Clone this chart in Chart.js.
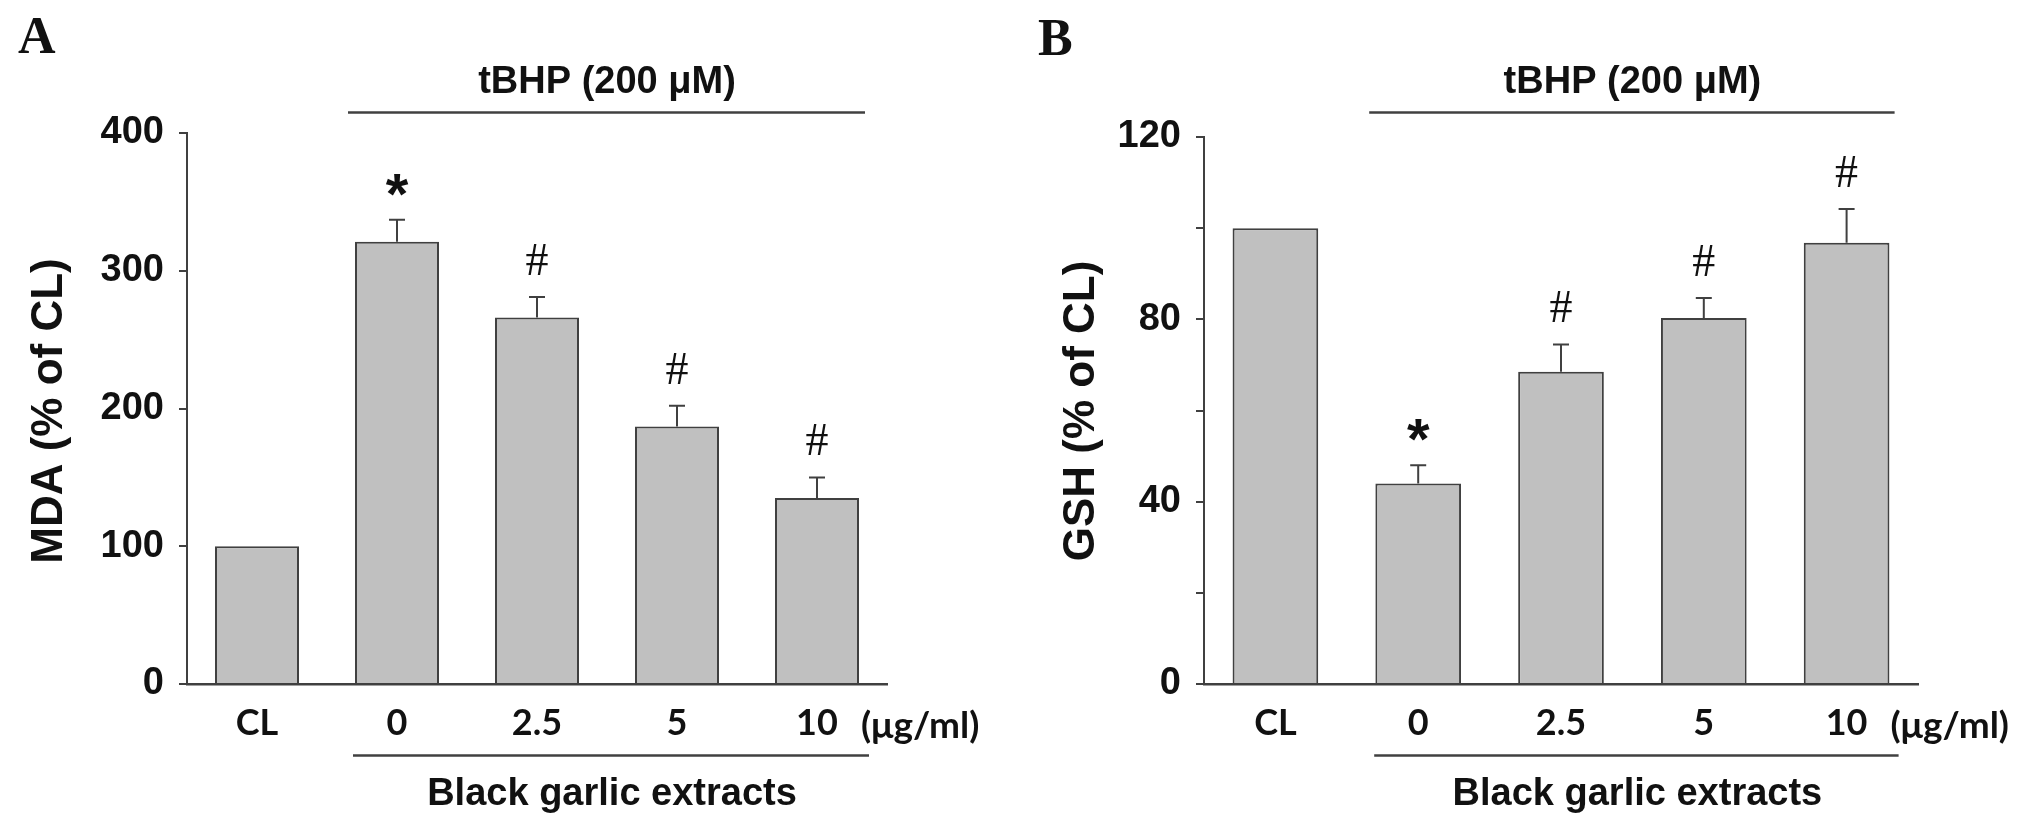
<!DOCTYPE html>
<html>
<head>
<meta charset="utf-8">
<script src="https://cdn.jsdelivr.net/npm/chart.js@4.4.1/dist/chart.umd.min.js"></script>
<style>
  html, body { margin: 0; padding: 0; background: #fff; overflow: hidden; }
  #wrap { position: relative; width: 2043px; height: 831px; }
  canvas { position: absolute; top: 0; }
</style>
</head>
<body>
<div id="wrap">
  <canvas id="chartA" width="1000" height="831" style="left:0px"></canvas>
  <canvas id="chartB" width="1043" height="831" style="left:1000px"></canvas>
</div>
<script>
// groups on the x axis (CL = control, rest = black garlic extract in ug/ml)
const groups = ['CL', '0', '2.5', '5', '10'];

// panel A - MDA (% of CL)
const mdaMean = [100, 321, 266, 187, 135];
const mdaErr = [0, 16, 15, 15, 15];
const mdaMarks = ['', '*', '#', '#', '#'];
const mdaTickLabels = [0, 100, 200, 300, 400];

// panel B - GSH (% of CL)
const gshMean = [100, 44, 68.5, 80.3, 96.8];
const gshErr = [0, 4, 6, 4.4, 7.4];
const gshMarks = ['', '*', '#', '#', '#'];
const gshTickLabels = [0, 40, 80, 120];

const SANS = '"Liberation Sans", Arial, sans-serif';
const TICK = 'Lato, "Liberation Sans", sans-serif';
const SERIF = '"Liberation Serif", "Times New Roman", serif';
const INK = '#111';
const LINE = '#404040';

// error bars, * / # marks, brackets and extra text
function makeDecor(cfg) {
    return {
        id: 'decor',
        afterDatasetsDraw(chart) {
            const ctx = chart.ctx;
            const y = chart.scales.y;
            const bars = chart.getDatasetMeta(0).data;
            ctx.save();
            ctx.strokeStyle = LINE;
            ctx.lineWidth = 2;
            bars.forEach((bar, i) => {
                if (!cfg.errors[i]) return;
                const top = y.getPixelForValue(cfg.means[i] + cfg.errors[i]);
                ctx.beginPath();
                ctx.moveTo(bar.x, bar.y);
                ctx.lineTo(bar.x, top);
                ctx.moveTo(bar.x - 8, top);
                ctx.lineTo(bar.x + 8, top);
                ctx.stroke();
            });
            ctx.fillStyle = INK;
            ctx.textAlign = 'center';
            ctx.textBaseline = 'alphabetic';
            bars.forEach((bar, i) => {
                const m = cfg.marks[i];
                if (!m) return;
                const top = y.getPixelForValue(cfg.means[i] + cfg.errors[i]);
                if (m === '*') {
                    ctx.font = 'bold 58px ' + SANS;
                    ctx.fillText(m, bar.x, top - 6);
                } else {
                    ctx.font = '46px ' + SERIF;
                    ctx.fillText(m, bar.x, top - 22);
                }
            });
            ctx.restore();
        },
        afterDraw(chart) {
            const ctx = chart.ctx;
            const x = chart.scales.x;
            const p1 = x.getPixelForValue(1);
            const p4 = x.getPixelForValue(4);
            ctx.save();
            ctx.strokeStyle = LINE;
            ctx.lineWidth = 2.5;

            // tBHP bracket
            ctx.beginPath();
            ctx.moveTo(p1 - 49, 112.5);
            ctx.lineTo(p4 + 48, 112.5);
            ctx.stroke();
            ctx.fillStyle = INK;
            ctx.textAlign = 'center';
            ctx.textBaseline = 'alphabetic';
            ctx.font = 'bold 38px ' + SANS;
            ctx.fillText('tBHP (200 μM)', (p1 + p4) / 2, 93);

            // extract bracket
            ctx.beginPath();
            ctx.moveTo(p1 - 44, 755.5);
            ctx.lineTo(p4 + 52, 755.5);
            ctx.stroke();
            ctx.fillText('Black garlic extracts', (p1 + p4) / 2 + 5, 805);

            // unit after the last tick label
            ctx.textAlign = 'left';
            ctx.textBaseline = 'middle';
            ctx.font = 'bold 37px ' + TICK;
            ctx.fillText('(μg/ml)', p4 + 44, 726);

            // y title
            ctx.save();
            ctx.translate(cfg.titleX, 411);
            ctx.rotate(-Math.PI / 2);
            ctx.textAlign = 'center';
            ctx.font = 'bold 44px ' + SANS;
            ctx.fillText(cfg.yTitle, 0, 0);
            ctx.restore();

            // panel letter
            ctx.textAlign = 'left';
            ctx.textBaseline = 'alphabetic';
            ctx.font = 'bold 52px ' + SERIF;
            ctx.fillText(cfg.letter, cfg.letterX, cfg.letterY);
            ctx.restore();
        }
    };
}

function makeChart(id, cfg) {
    const ctx = document.getElementById(id).getContext('2d');
    return new Chart(ctx, {
        type: 'bar',
        data: {
            labels: groups,
            datasets: [{
                data: cfg.means,
                backgroundColor: '#c0c0c0',
                borderColor: LINE,
                borderWidth: 2,
                barPercentage: 0.6,
                categoryPercentage: 1.0
            }]
        },
        options: {
            responsive: false,
            animation: false,
            events: [],
            layout: {
                padding: { left: 0, right: cfg.padRight, top: cfg.padTop, bottom: 0 }
            },
            plugins: {
                legend: { display: false },
                tooltip: { enabled: false }
            },
            scales: {
                x: {
                    z: 1,
                    grid: { display: false, drawTicks: false },
                    border: { display: true, color: LINE, width: 2.5 },
                    ticks: {
                        color: INK,
                        padding: 18,
                        font: { family: TICK, size: 36, weight: 'bold' }
                    },
                    afterFit: (scale) => { scale.height = 147; }
                },
                y: {
                    min: 0,
                    max: cfg.yMax,
                    grid: { drawOnChartArea: false, drawTicks: true, tickLength: 8, color: LINE, lineWidth: 2 },
                    border: { display: true, color: LINE, width: 2 },
                    ticks: {
                        stepSize: cfg.yStep,
                        color: INK,
                        padding: 15,
                        font: { family: SANS, size: 38, weight: 'bold' },
                        callback: (v) => cfg.tickLabels.includes(v) ? String(v) : ''
                    },
                    afterFit: (scale) => { scale.width = cfg.axisLeft; }
                }
            }
        },
        plugins: [makeDecor(cfg)]
    });
}

makeChart('chartA', {
    means: mdaMean, errors: mdaErr, marks: mdaMarks, tickLabels: mdaTickLabels,
    yMax: 400, yStep: 100, yTitle: 'MDA (% of CL)', letter: 'A',
    axisLeft: 187, padRight: 113, padTop: 133,
    titleX: 50, letterX: 18, letterY: 53
});

makeChart('chartB', {
    means: gshMean, errors: gshErr, marks: gshMarks, tickLabels: gshTickLabels,
    yMax: 120, yStep: 20, yTitle: 'GSH (% of CL)', letter: 'B',
    axisLeft: 204, padRight: 125, padTop: 137,
    titleX: 82, letterX: 38, letterY: 55
});
</script>
</body>
</html>
